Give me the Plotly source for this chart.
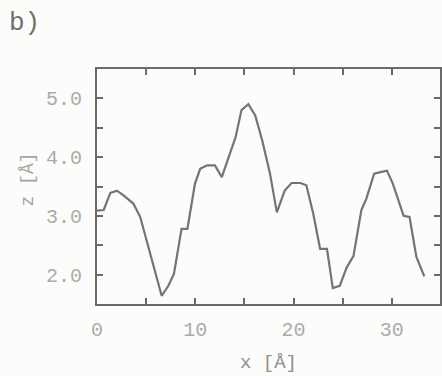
import plotly.graph_objects as go

x_vals = [0.0, 0.68, 1.36, 2.03, 2.7, 3.7, 4.4, 5.05, 5.7, 6.58, 7.26, 7.83, 8.6, 9.2,
          9.97, 10.5, 11.2, 12.0, 12.7, 13.4, 14.1, 14.7, 15.4, 16.1, 16.8, 17.6, 18.3,
          19.1, 19.8, 20.7, 21.3, 22.0, 22.7, 23.4, 23.99, 24.7, 25.4, 26.1, 26.9, 27.4,
          28.2, 28.95, 29.5, 30.1, 31.2, 31.8, 32.5, 33.3]
z_vals = [3.09, 3.1, 3.39, 3.43, 3.35, 3.21, 2.98, 2.58, 2.18, 1.64, 1.81, 2.01, 2.78, 2.78,
          3.55, 3.80, 3.86, 3.86, 3.66, 4.0, 4.34, 4.8, 4.9, 4.71, 4.29, 3.72, 3.06,
          3.43, 3.56, 3.56, 3.52, 3.04, 2.44, 2.44, 1.77, 1.81, 2.12, 2.32, 3.1, 3.29,
          3.72, 3.75, 3.77, 3.55, 3.0, 2.98, 2.3, 1.97]

x_tickvals = [0, 10, 20, 30]
y_tickvals = [2.0, 3.0, 4.0, 5.0]

font_family = "Liberation Mono, DejaVu Sans Mono, monospace"
axis_color = "#6a6a6a"
label_color = "#ababab"

fig = go.Figure()
fig.add_trace(go.Scatter(x=x_vals, y=z_vals, mode="lines",
                         line=dict(color="#747474", width=2.2), showlegend=False))

common = dict(showline=True, linecolor=axis_color, linewidth=2, mirror="ticks",
              ticks="inside", ticklen=6, tickwidth=2, tickcolor=axis_color,
              showgrid=False, zeroline=False, automargin=False,
              tickfont=dict(family=font_family, size=20, color=label_color))

fig.update_xaxes(range=[0, 34.9], tickvals=x_tickvals, ticktext=[str(v) for v in x_tickvals],
                 minor=dict(dtick=5, tick0=0, ticks="inside", ticklen=6, tickwidth=2,
                            tickcolor=axis_color),
                 ticklabelstandoff=6,
                 **common)
fig.update_yaxes(range=[1.5, 5.5], tickvals=y_tickvals, ticktext=[f"{v:.1f}" for v in y_tickvals],
                 minor=dict(dtick=0.5, tick0=0, ticks="inside", ticklen=6, tickwidth=2,
                            tickcolor=axis_color),
                 ticklabelstandoff=9,
                 **common)

fig.add_annotation(text="x [Å]", xref="paper", yref="paper", x=0.5, y=-0.25,
                   xanchor="center", yanchor="middle", showarrow=False,
                   font=dict(family=font_family, size=19, color="#8e8e8e"))
fig.add_annotation(text="z [Å]", xref="paper", yref="paper", x=-0.201, y=0.53,
                   xanchor="center", yanchor="middle", showarrow=False, textangle=-90,
                   font=dict(family=font_family, size=18, color="#a4a4a4"))
fig.add_annotation(text="b)", xref="paper", yref="paper", x=-0.262, y=1.196,
                   xanchor="left", yanchor="middle", showarrow=False,
                   font=dict(family=font_family, size=26, color="#707070"))

fig.update_layout(width=442, height=376,
                  margin=dict(l=97, r=2, t=69, b=72),
                  paper_bgcolor="#fcfcfa", plot_bgcolor="#fcfcfa")

fig.write_html("out.html", config={"displayModeBar": False},
               post_script="document.body.style.margin='0';document.body.style.overflow='hidden';")
